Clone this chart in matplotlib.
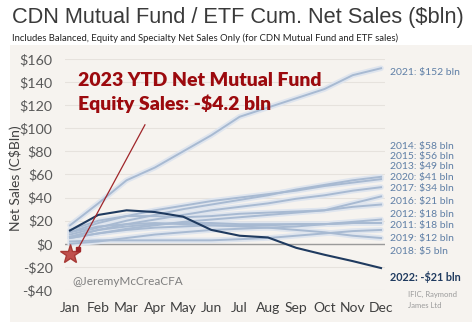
import numpy as np
import matplotlib
matplotlib.use("Agg")
from matplotlib import pyplot as plt

months = ["Jan", "Feb", "Mar", "Apr", "May", "Jun", "Jul", "Aug", "Sep", "Oct", "Nov", "Dec"]

# cumulative net sales by year ($bln)
y2021 = [16, 35, 55, 66, 80, 94, 110, 118, 126, 134, 146, 152]
y2014 = [8, 14, 20, 25, 30, 34, 38, 42, 47, 51, 55, 58]
y2015 = [10, 18, 24, 29, 33, 37, 40, 43, 46, 50, 53, 56]
y2013 = [6, 12, 17, 21, 25, 29, 32, 35, 39, 42, 46, 49]
y2020 = [12, 20, 24, 24, 23, 24, 26, 27, 28, 29, 35, 41]
y2017 = [5, 9, 13, 16, 19, 21, 23, 25, 27, 29, 32, 34]
y2016 = [0, 2, 5, 8, 10, 12, 13, 14, 15, 17, 19, 21]
y2012 = [5, 9, 12, 14, 15, 16, 16, 16, 17, 17, 18, 18]
y2011 = [6, 12, 15, 17, 18, 18, 17, 17, 17, 17, 18, 18]
y2019 = [2, 3, 3, 3, 3, 3, 4, 5, 7, 9, 11, 12]
y2018 = [10, 15, 17, 18, 17, 16, 15, 14, 12, 10, 7, 5]
y2022 = [11.5, 25, 29, 27.5, 23.5, 12, 7, 5.5, -3.5, -9.5, -15, -21]
ytd2023 = -9

light_years = [y2021, y2014, y2015, y2013, y2020, y2017, y2016, y2012, y2011, y2019, y2018]
light_labels = ["2021: $152 bln", "2014: $58 bln", "2015: $56 bln", "2013: $49 bln",
                "2020: $41 bln", "2017: $34 bln", "2016: $21 bln", "2012: $18 bln",
                "2011: $18 bln", "2019: $12 bln", "2018: $5 bln"]
label_y = [148, 84, 75.5, 66.5, 57, 47.6, 37, 25, 15.6, 5, -7]

yticks = [-40, -20, 0, 20, 40, 60, 80, 100, 120, 140, 160]

fig = plt.figure(figsize=(4.74, 3.25), dpi=100)

# off-white panel behind the chart
bg = fig.add_axes([10 / 474, 3 / 325, 462 / 474, 277 / 325], zorder=-5)
bg.set_facecolor("#f6f3ef")
bg.set_xticks([])
bg.set_yticks([])
for s in bg.spines.values():
    s.set_visible(False)

ax = fig.add_axes([65 / 474, 35 / 325, 320 / 474, 231 / 325])
ax.set_facecolor("none")
x = np.arange(len(months))

for v in yticks:
    ax.axhline(v, color="#e6e2dd", lw=0.8, zorder=1)
ax.axhline(0, color="#9a9a9a", lw=1.0, zorder=2)

for vals in light_years:
    ax.plot(x, vals, color="#dfe5ee", lw=4.0, solid_capstyle="round", zorder=3)
    ax.plot(x, vals, color="#a8bad2", lw=1.4, zorder=4)

ax.plot(x, y2022, color="#1f3a5f", lw=1.5, zorder=5)

for lab, ly in zip(light_labels, label_y):
    ax.text(11.3, ly, lab, color="#5f7fa6", fontsize=7.5, family="Lato",
            va="center", ha="left", clip_on=False)
ax.text(11.3, -28.6, "2022: -$21 bln", color="#1f3a5f", fontsize=7.8,
        family="Lato", fontweight="bold", va="center", ha="left", clip_on=False)

# 2023 star and pointer
ax.plot([0], [ytd2023], marker="*", ms=15, color="#c0504d", mec="#a83a36",
        zorder=6, clip_on=False)
ax.plot([0.28, 2.65], [-4.5, 103], color="#a0262a", lw=0.9, zorder=6)
ax.plot([0.28], [-4.5], marker="s", ms=2.5, color="#a0262a", zorder=6)

ax.text(0.28, 149, "2023 YTD Net Mutual Fund\nEquity Sales: -$4.2 bln",
        color="#9c0a0e", fontsize=14, fontweight="heavy", family="Lato",
        va="top", ha="left", linespacing=1.35, zorder=7)
ax.text(0.1, -33, "@JeremyMcCreaCFA", color="#7f7f7f", fontsize=8.5,
        family="Lato", va="center", ha="left")

ax.set_xlim(-0.177, 11.14)
ax.set_ylim(-40, 160)
ax.set_xticks(x)
ax.set_xticklabels(months, family="Lato", fontsize=10, color="#404040")
ax.set_yticks(yticks)
ax.set_yticklabels([f"${v}" if v >= 0 else f"-${-v}" for v in yticks],
                   family="Lato", fontsize=10.3, color="#595959")
ax.tick_params(length=0, axis="y", pad=9)
ax.tick_params(length=0, axis="x", pad=9)
for s in ax.spines.values():
    s.set_visible(False)

fig.text(15 / 474, 1 - 178 / 325, "Net Sales (C$Bln)", family="Lato",
         fontsize=10, color="#404040", rotation=90, va="center", ha="center")
fig.text(12 / 474, 1 - 18 / 325, "CDN Mutual Fund / ETF Cum. Net Sales ($bln)",
         family="Liberation Sans", fontsize=15.7, color="#3a3a3a", va="center",
         ha="left")
fig.text(12 / 474, 1 - 38 / 325,
         "Includes Balanced, Equity and Specialty Net Sales Only (for CDN Mutual Fund and ETF sales)",
         family="Lato", fontsize=6.8, color="#222222", va="center", ha="left")
fig.text(408 / 474, 1 - 300 / 325, "IFIC, Raymond\nJames Ltd", family="Lato",
         fontsize=5.5, color="#9a9a9a", va="center", ha="left", linespacing=1.6)

fig.savefig("out.png", dpi=100)
